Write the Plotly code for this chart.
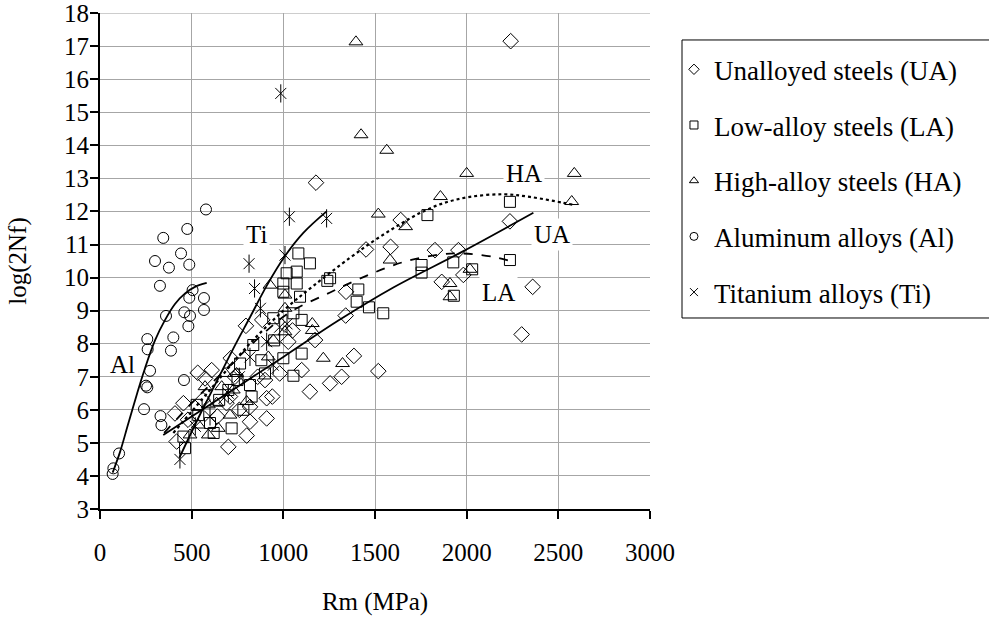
import plotly.graph_objects as go

# ---------------- data ----------------
ua_x = [2240, 1178, 1640, 1451, 1585, 1827, 1955, 1864, 1982, 2236, 2360, 2300, 1342, 1340,
        1385, 1318, 1518, 1255, 1145, 1100, 1173, 1027, 796, 885, 713, 533, 609, 573, 455,
        409, 418, 700, 800, 909, 818, 909, 940, 900, 709, 818, 736, 480, 560, 640, 690, 760,
        860, 980, 1050]
ua_y = [17.15, 12.87, 11.74, 10.85, 10.93, 10.83, 10.83, 9.87, 10.08, 11.70, 9.72, 8.28, 9.57, 8.85,
        7.63, 7.00, 7.17, 6.80, 6.55, 7.20, 8.11, 8.06, 8.54, 8.72, 7.56, 7.12, 7.20, 6.95, 6.20,
        5.89, 5.04, 4.88, 5.22, 5.74, 5.64, 6.35, 6.40, 6.90, 6.40, 6.09, 7.00, 5.70, 6.30, 5.80, 6.20, 6.00,
        7.00, 7.10, 8.40]

la_x = [1786, 2236, 2236, 1927, 1754, 1754, 1409, 1400, 1467, 1545, 1255, 1240, 1930, 2030,
        1145, 1082, 1073, 1073, 1018, 1000, 1000, 1091, 1100, 945, 1055, 836, 1000, 1055, 900,
        818, 827, 764, 782, 718, 527, 536, 455, 464, 1100, 600, 650, 700, 880, 950, 620, 750]
la_y = [11.89, 12.29, 10.53, 10.46, 10.38, 10.15, 9.64, 9.27, 9.10, 8.92, 9.98, 9.90, 9.45, 10.25,
        10.43, 10.73, 10.18, 9.82, 10.13, 9.82, 9.57, 9.42, 8.72, 8.77, 8.92, 7.96, 7.56, 7.03, 7.10,
        6.75, 6.40, 7.40, 6.00, 5.44, 6.15, 5.84, 5.19, 4.84, 7.70, 5.60, 6.30, 6.60, 7.50, 8.10, 5.30, 6.90]

ha_x = [1396, 1424, 1564, 2000, 2587, 2573, 1857, 1518, 1667, 1582, 1909, 1909, 2018, 1323,
        1218, 1158, 1158, 927, 1009, 1009, 1009, 945, 918, 745, 682, 573, 664, 727, 800, 636,
        591, 536, 591, 645, 709, 491]
ha_y = [17.13, 14.32, 13.85, 13.15, 13.15, 12.30, 12.45, 11.92, 11.54, 10.53, 9.82, 9.42, 10.25, 7.40,
        7.56, 8.61, 8.40, 9.77, 9.47, 9.07, 8.36, 8.11, 7.60, 7.10, 7.10, 6.70, 6.70, 6.60, 6.25, 6.20,
        6.15, 5.54, 5.24, 5.44, 5.84, 5.24]

al_x = [578, 476, 345, 442, 300, 376, 487, 327, 505, 487, 567, 567, 360, 460, 491, 482, 258,
        400, 260, 387, 273, 458, 251, 258, 240, 104, 73, 69, 330, 335]
al_y = [12.06, 11.47, 11.20, 10.73, 10.50, 10.30, 10.39, 9.75, 9.62, 9.39, 9.38, 9.02, 8.84, 8.95,
        8.84, 8.53, 8.14, 8.19, 7.83, 7.79, 7.18, 6.90, 6.73, 6.68, 6.02, 4.68, 4.23, 4.06, 5.81, 5.54]

ti_x = [986, 1033, 1236, 813, 843, 875, 436, 818, 945, 909, 1009, 1020, 980, 700, 600, 520, 760]
ti_y = [15.57, 11.84, 11.79, 10.42, 9.67, 9.07, 4.50, 7.60, 7.35, 8.06, 10.68, 8.60, 8.50, 6.50, 5.80, 5.50, 7.00]

# trend curves
ua_fit_x = [345, 500, 1000, 1300, 1600, 1982, 2364]
ua_fit_y = [5.24, 5.80, 7.60, 8.70, 9.70, 10.80, 11.96]
la_fit_x = [350, 500, 700, 900, 1036, 1255, 1473, 1673, 1855, 1950, 2036, 2150, 2236]
la_fit_y = [5.30, 6.20, 7.30, 8.35, 8.95, 9.55, 10.10, 10.50, 10.70, 10.73, 10.71, 10.62, 10.50]
ha_fit_x = [400, 600, 800, 1000, 1164, 1364, 1491, 1618, 1745, 1873, 2018, 2200, 2345, 2527, 2580]
ha_fit_y = [5.30, 6.60, 7.90, 9.00, 9.75, 10.60, 11.10, 11.55, 11.95, 12.25, 12.44, 12.52, 12.44, 12.26, 12.20]
al_fit_x = [69, 109, 150, 200, 245, 300, 355, 409, 464, 518, 582]
al_fit_y = [4.10, 4.72, 5.50, 6.45, 7.25, 8.10, 8.72, 9.20, 9.52, 9.72, 9.84]
ti_fit_x = [433, 545, 636, 727, 818, 909, 1009, 1109, 1236]
ti_fit_y = [4.55, 5.85, 6.85, 7.85, 8.80, 9.75, 10.65, 11.35, 12.00]

legend_names = ["Unalloyed steels (UA)", "Low-alloy steels (LA)", "High-alloy steels (HA)",
                "Aluminum alloys (Al)", "Titanium alloys (Ti)"]
x_ticks = [0, 500, 1000, 1500, 2000, 2500, 3000]
y_ticks = list(range(3, 19))

labels_text = ["Al", "Ti", "HA", "UA", "LA"]
labels_x = [120, 856, 2313, 2465, 2176]
labels_y = [7.38, 11.29, 13.16, 11.29, 9.56]
labels_bg = [False, True, True, True, True]

# ---------------- figure ----------------
FONT = "Liberation Serif, Times New Roman, serif"
fig = go.Figure()


def pts(x, y, symbol, size):
    fig.add_trace(go.Scatter(x=x, y=y, mode="markers", showlegend=False, hoverinfo="skip",
                             marker=dict(symbol=symbol, size=size, color="black",
                                         line=dict(color="black", width=1))))


pts(ua_x, ua_y, "diamond-open", 12)
pts(la_x, la_y, "square-open", 11)
pts(ha_x, ha_y, "triangle-up-open", 12)
pts(al_x, al_y, "circle-open", 11)
pts(ti_x, ti_y, "x-thin-open", 11)
pts(ti_x, ti_y, "line-ns-open", 13)


def curve(x, y, dash, width=1.8):
    fig.add_trace(go.Scatter(x=x, y=y, mode="lines", showlegend=False, hoverinfo="skip",
                             line=dict(color="black", width=width, dash=dash, shape="spline")))


curve(ua_fit_x, ua_fit_y, "solid")
curve(la_fit_x, la_fit_y, "dash")
curve(ha_fit_x, ha_fit_y, "dot", 2.2)
curve(al_fit_x, al_fit_y, "solid")
curve(ti_fit_x, ti_fit_y, "solid")

# legend entries with small symbols
leg_symbols = ["diamond-open", "square-open", "triangle-up-open", "circle-open", "x-thin-open"]
for i, (nm, sym) in enumerate(zip(legend_names, leg_symbols)):
    fig.add_trace(go.Scatter(x=[None], y=[None], mode="markers", name=nm, legendgroup=str(i),
                             marker=dict(symbol=sym, size=8, color="black",
                                         line=dict(color="black", width=1))))

for t, x, y, bg in zip(labels_text, labels_x, labels_y, labels_bg):
    fig.add_annotation(x=x, y=y, xref="x", yref="y", text=t, showarrow=False,
                       font=dict(family=FONT, size=25, color="black"),
                       bgcolor="white" if bg else "rgba(0,0,0,0)", borderpad=2)

# top border gridline (at y = 18)
fig.add_shape(type="line", xref="paper", yref="y", x0=0, x1=1, y0=y_ticks[-1], y1=y_ticks[-1],
              line=dict(color="#a6a6a6", width=1), layer="below")

# legend frame (runs off the right edge as in the original)
fig.add_shape(type="rect", xref="paper", yref="paper", x0=1.0582, x1=1.64, y0=0.3851, y1=0.9456,
              line=dict(color="black", width=1), fillcolor="rgba(0,0,0,0)", layer="above")

axis_common = dict(showgrid=True, gridcolor="#a6a6a6", gridwidth=1, zeroline=False,
                   showline=True, linecolor="black", linewidth=2, ticks="outside",
                   ticklen=8, tickwidth=2, tickcolor="black", ticklabeloverflow="allow",
                   automargin=False,
                   tickfont=dict(family=FONT, size=25, color="black"))

fig.update_layout(
    width=989, height=621,
    margin=dict(l=100, r=339, t=13, b=112),
    plot_bgcolor="white", paper_bgcolor="white",
    font=dict(family=FONT, size=25, color="black"),
    xaxis=dict(range=[0, 3000.01], tickvals=x_ticks, ticktext=[str(v) for v in x_ticks],
               ticklabelstandoff=12,
               title=dict(text="Rm (MPa)", font=dict(family=FONT, size=25), standoff=27),
               **axis_common),
    yaxis=dict(range=[3, 18.002], tickvals=y_ticks, ticktext=[str(v) for v in y_ticks],
               ticklabelstandoff=-4,
               title=dict(text="log(2Nf)", font=dict(family=FONT, size=25), standoff=30),
               **axis_common),
    legend=dict(x=1.0436, xanchor="left", y=0.935, yanchor="top",
                borderwidth=0, bgcolor="rgba(0,0,0,0)",
                font=dict(family=FONT, size=27, color="black"),
                traceorder="grouped", tracegroupgap=17.6),
    showlegend=True,
)

fig.write_html("out.html", config={"displayModeBar": False},
               post_script="document.body.style.margin='0';")
